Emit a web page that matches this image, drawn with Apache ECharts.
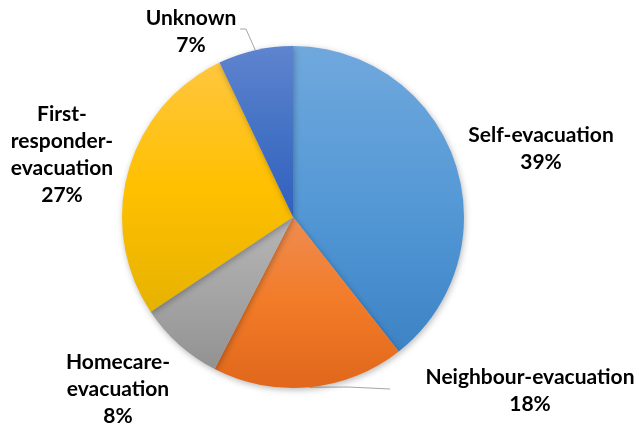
<!DOCTYPE html>
<html>
<head>
<meta charset="utf-8">
<script src="https://cdn.jsdelivr.net/npm/echarts@6/dist/echarts.min.js"></script>
<style>
  html, body { margin: 0; padding: 0; background: #ffffff; }
  #chart { width: 639px; height: 427px; }
</style>
</head>
<body>
<div id="chart"></div>
<script>
// Evacuation method shares (percent), clockwise from 12 o'clock
const categories = [
  'Self-evacuation',
  'Neighbour-evacuation',
  'Homecare-\nevacuation',
  'First-\nresponder-\nevacuation',
  'Unknown'
];
const shares = [39, 18, 8, 27, 7];

// Vertical gradient per slice: [top tint, base colour, bottom shade]
const sliceColors = [
  ['#70a8dd', '#5599d6', '#3d83c5'],
  ['#ef8c50', '#f27b28', '#e0671b'],
  ['#b6b6b6', '#a5a5a5', '#929292'],
  ['#ffc63e', '#ffc000', '#e6b200'],
  ['#5f84cf', '#4472c4', '#3160c0']
];

// Label block centres in pixels (layout only)
const labelCenters = [
  [541, 149],
  [530, 391],
  [118, 389],
  [62, 155],
  [191, 32]
];

const chart = echarts.init(document.getElementById('chart'), null, { renderer: 'canvas' });

const seriesData = categories.map((name, i) => ({
  name: name,
  value: shares[i],
  itemStyle: {
    color: new echarts.graphic.LinearGradient(0, 0, 0, 1, [
      { offset: 0, color: sliceColors[i][0] },
      { offset: 0.5, color: sliceColors[i][1] },
      { offset: 1, color: sliceColors[i][2] }
    ])
  }
}));

chart.setOption({
  backgroundColor: '#ffffff',
  animation: false,
  series: [{
    type: 'pie',
    center: [293, 217],
    radius: 171,
    startAngle: 90,
    clockwise: true,
    data: seriesData,
    itemStyle: {
      borderWidth: 0,
      shadowBlur: 6,
      shadowOffsetX: 1,
      shadowOffsetY: 2,
      shadowColor: 'rgba(0,0,0,0.28)'
    },
    label: {
      show: true,
      position: 'outside',
      alignTo: 'none',
      overflow: 'none',
      formatter: '{b}\n{c}%',
      fontFamily: 'Lato',
      fontWeight: 'bold',
      fontSize: 21,
      lineHeight: 27,
      color: '#000000',
      align: 'center'
    },
    labelLine: {
      show: true,
      lineStyle: { color: '#a6a6a6', width: 1 }
    },
    labelLayout: function (params) {
      const i = params.dataIndex;
      const c = labelCenters[i];
      const out = {
        x: c[0],
        y: c[1],
        align: 'center',
        verticalAlign: 'middle'
      };
      const pts = params.labelLinePoints;
      if (i === 4 && pts) {
        const s = pts[0];
        out.labelLinePoints = [[s[0], s[1]], [246, 29], [240, 29]];
      } else if (i === 1 && pts) {
        const s = pts[0];
        out.labelLinePoints = [[s[0], s[1]], [348, 387], [390, 389]];
      } else {
        out.labelLinePoints = pts ? [pts[0], pts[0], pts[0]] : undefined;
      }
      return out;
    }
  }]
});
</script>
</body>
</html>
